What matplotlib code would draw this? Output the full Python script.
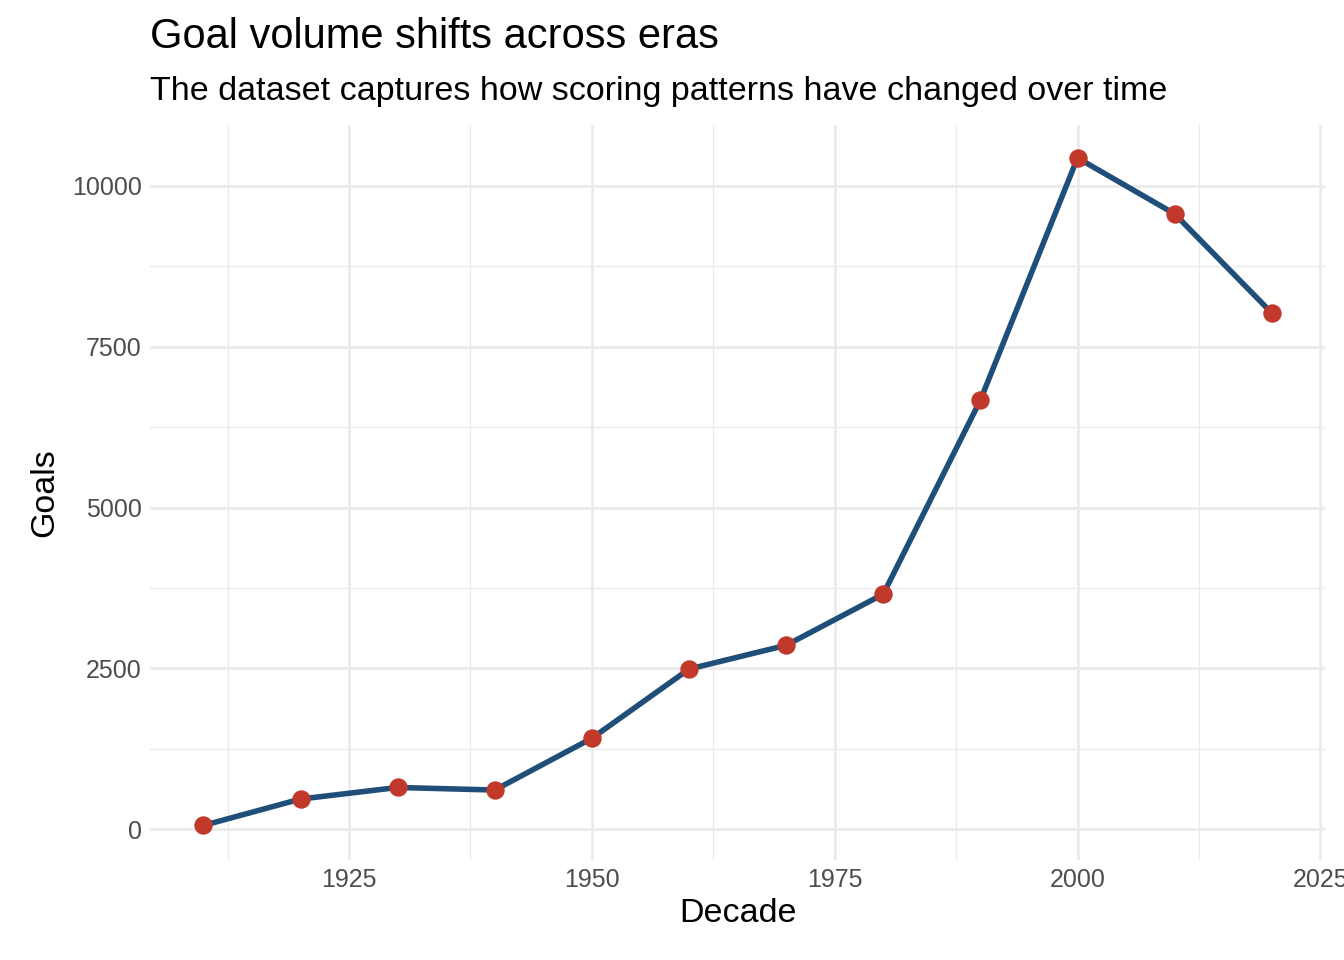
import matplotlib
matplotlib.use("Agg")
import matplotlib.pyplot as plt

decades = [1910, 1920, 1930, 1940, 1950, 1960, 1970, 1980, 1990, 2000, 2010, 2020]
goals = [60, 470, 650, 610, 1415, 2490, 2860, 3655, 6670, 10435, 9565, 8025]

plt.rcParams['font.family'] = ['Liberation Sans', 'DejaVu Sans']

fig = plt.figure(figsize=(13.44, 9.6), dpi=100)
ax = fig.add_axes([0.1116, 0.104, 0.8744, 0.766])

ax.plot(decades, goals, color="#1f4e79", linewidth=4, zorder=2)
ax.scatter(decades, goals, color="#c0392b", s=150, zorder=3)

ax.set_xlim(1904.5, 2025.5)
ax.set_ylim(-480, 10950)
ax.set_xticks([1925, 1950, 1975, 2000, 2025])
ax.set_xticks([1912.5, 1937.5, 1962.5, 1987.5, 2012.5], minor=True)
ax.set_yticks([0, 2500, 5000, 7500, 10000])
ax.set_yticks([1250, 3750, 6250, 8750], minor=True)
ax.grid(which="major", color="#ebebeb", linewidth=2)
ax.grid(which="minor", color="#ebebeb", linewidth=1)
ax.set_axisbelow(True)
for s in ax.spines.values():
    s.set_visible(False)
ax.tick_params(which="both", length=0, labelsize=18, labelcolor="#4d4d4d", pad=6)

ax.set_xlabel("Decade", fontsize=24.5, labelpad=4)
ax.set_ylabel("Goals", fontsize=24.5, labelpad=8)

fig.text(0.1116, 1 - 48 / 960, "Goal volume shifts across eras", fontsize=30, va="baseline")
fig.text(0.1116, 1 - 100 / 960, "The dataset captures how scoring patterns have changed over time",
         fontsize=24.5, va="baseline")

fig.savefig("out.png", dpi=100)
